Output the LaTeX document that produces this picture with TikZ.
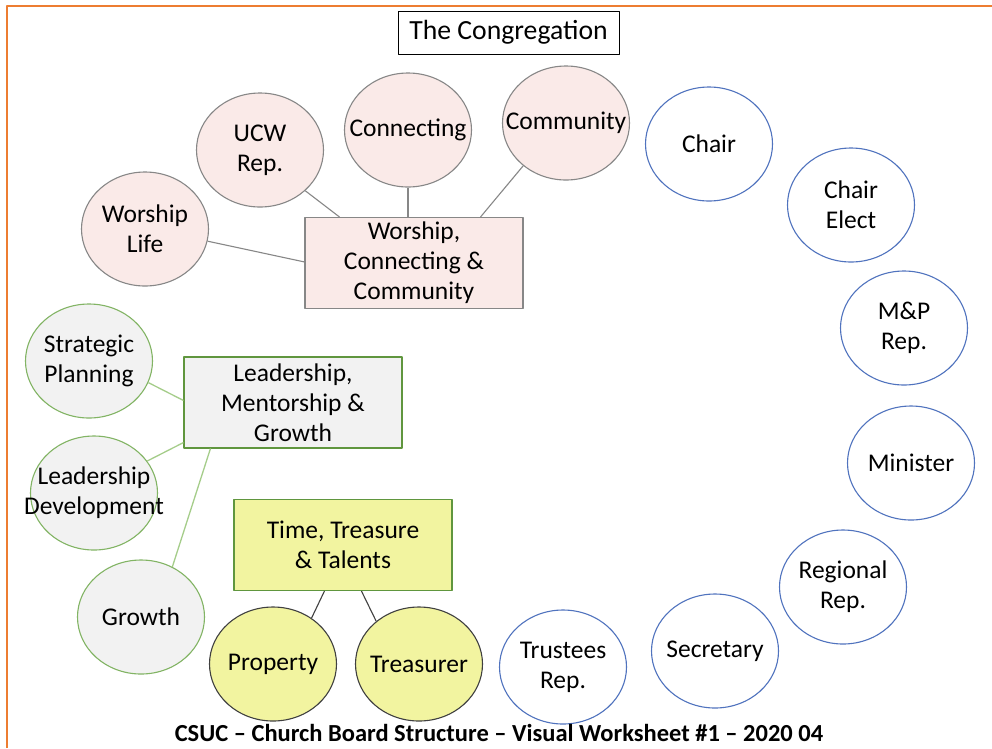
\documentclass[tikz,border=0pt]{standalone}
\usepackage{fontspec}
\setmainfont{Carlito}
\usetikzlibrary{shapes.geometric}

\definecolor{frameorange}{RGB}{237,125,49}
\definecolor{pinkfill}{RGB}{250,234,232}
\definecolor{pinkdraw}{RGB}{135,135,135}
\definecolor{grayfill}{RGB}{242,242,242}
\definecolor{greenrect}{RGB}{96,150,62}
\definecolor{greenoval}{RGB}{130,180,100}
\definecolor{greenline}{RGB}{165,205,138}
\definecolor{yellowfill}{RGB}{242,244,160}
\definecolor{darkdraw}{RGB}{64,64,64}
\definecolor{bluedraw}{RGB}{80,115,190}

\begin{document}
\begin{tikzpicture}[x=1pt, y=-1pt, line join=round,
    oval/.style={ellipse, draw, line width=1.1pt, minimum width=127pt, minimum height=114pt, inner xsep=-28pt, inner ysep=-6pt, align=center, font=\fontsize{25.5}{30}\selectfont},
    box/.style={rectangle, draw, line width=1.1pt, minimum width=218pt, minimum height=91pt, inner sep=0pt, align=center, font=\fontsize{25.5}{30}\selectfont},
    wccoval/.style={oval, fill=pinkfill, draw=pinkdraw},
    lmgoval/.style={oval, fill=grayfill, draw=greenoval},
    tttoval/.style={oval, fill=yellowfill, draw=darkdraw},
    boardoval/.style={oval, fill=white, draw=bluedraw},
    wccline/.style={draw=pinkdraw, line width=1.1pt},
    lmgline/.style={draw=greenline, line width=1.3pt},
    tttline/.style={draw=darkdraw, line width=1.1pt}]
  \useasboundingbox (0,0) rectangle (992,748);
  \fill[white] (0,0) rectangle (992,748);
  \draw[frameorange, line width=2pt] (7,748) -- (7,6) -- (992,6);

  \node[draw, line width=1pt, minimum width=221pt, minimum height=43pt, font=\fontsize{27.7}{32}\selectfont] (cong) at (508.5,32.5) {The Congregation};

  % worship, connecting & community
  \node[box, fill=pinkfill, draw=pinkdraw] (wcc) at (414,263) {Worship,\\Connecting \&\\Community};
  \node[wccoval] (wlife) at (145,229) {Worship\\Life};
  \node[wccoval] (ucw) at (260,150) {UCW\\Rep.};
  \node[wccoval] (conn) at (408,130) {Connecting};
  \node[wccoval] (comm) at (566,123) {Community};

  \draw[wccline] (wlife.-11) -- ([yshift=-45pt]wcc.north west);
  \draw[wccline] (ucw.-42) -- ([xshift=35pt]wcc.north west);
  \draw[wccline] (conn.south) -- (conn |- wcc.north);
  \draw[wccline] (comm.225) -- ([xshift=-43pt]wcc.north east);

  % leadership, mentorship & growth
  \node[box, fill=grayfill, draw=greenrect] (lmg) at (293,402.5) {Leadership,\\Mentorship \&\\Growth};
  \node[lmgoval] (strat) at (89,361) {Strategic\\Planning};
  \node[lmgoval] (ldev) at (94,493) {Leadership\\Development};
  \node[lmgoval] (growth) at (141,617) {Growth};

  \draw[lmgline] (strat.-20) -- ([yshift=-44pt]lmg.north west);
  \draw[lmgline] (ldev.31) -- ([yshift=6pt]lmg.south west);
  \draw[lmgline] (growth.58) -- ([xshift=27pt]lmg.south west);

  % time, treasure & talents
  \node[box, fill=yellowfill, draw=greenrect] (ttt) at (343,545) {Time, Treasure\\\& Talents};
  \node[tttoval] (prop) at (273,664) {Property};
  \node[tttoval] (treas) at (419,664) {Treasurer};

  \draw[tttline] (prop.50) -- ([xshift=91pt]ttt.south west);
  \draw[tttline] (treas.135) -- ([xshift=128pt]ttt.south west);

  % board members
  \node[boardoval] (chair) at (709,144) {Chair};
  \node[boardoval] (elect) at (851,205) {Chair\\Elect};
  \node[boardoval] (mp) at (904,328) {M\&P\\Rep.};
  \node[boardoval] (minister) at (911,463) {Minister};
  \node[boardoval] (regional) at (843,587) {Regional\\Rep.};
  \node[boardoval] (secretary) at (715,651) {Secretary};
  \node[boardoval] (trustees) at (563,667) {Trustees\\Rep.};

  \node[font=\bfseries\fontsize{24.5}{28}\selectfont] (caption) at (499,733) {CSUC – Church Board Structure – Visual Worksheet \#1 – 2020 04};
\end{tikzpicture}
\end{document}
